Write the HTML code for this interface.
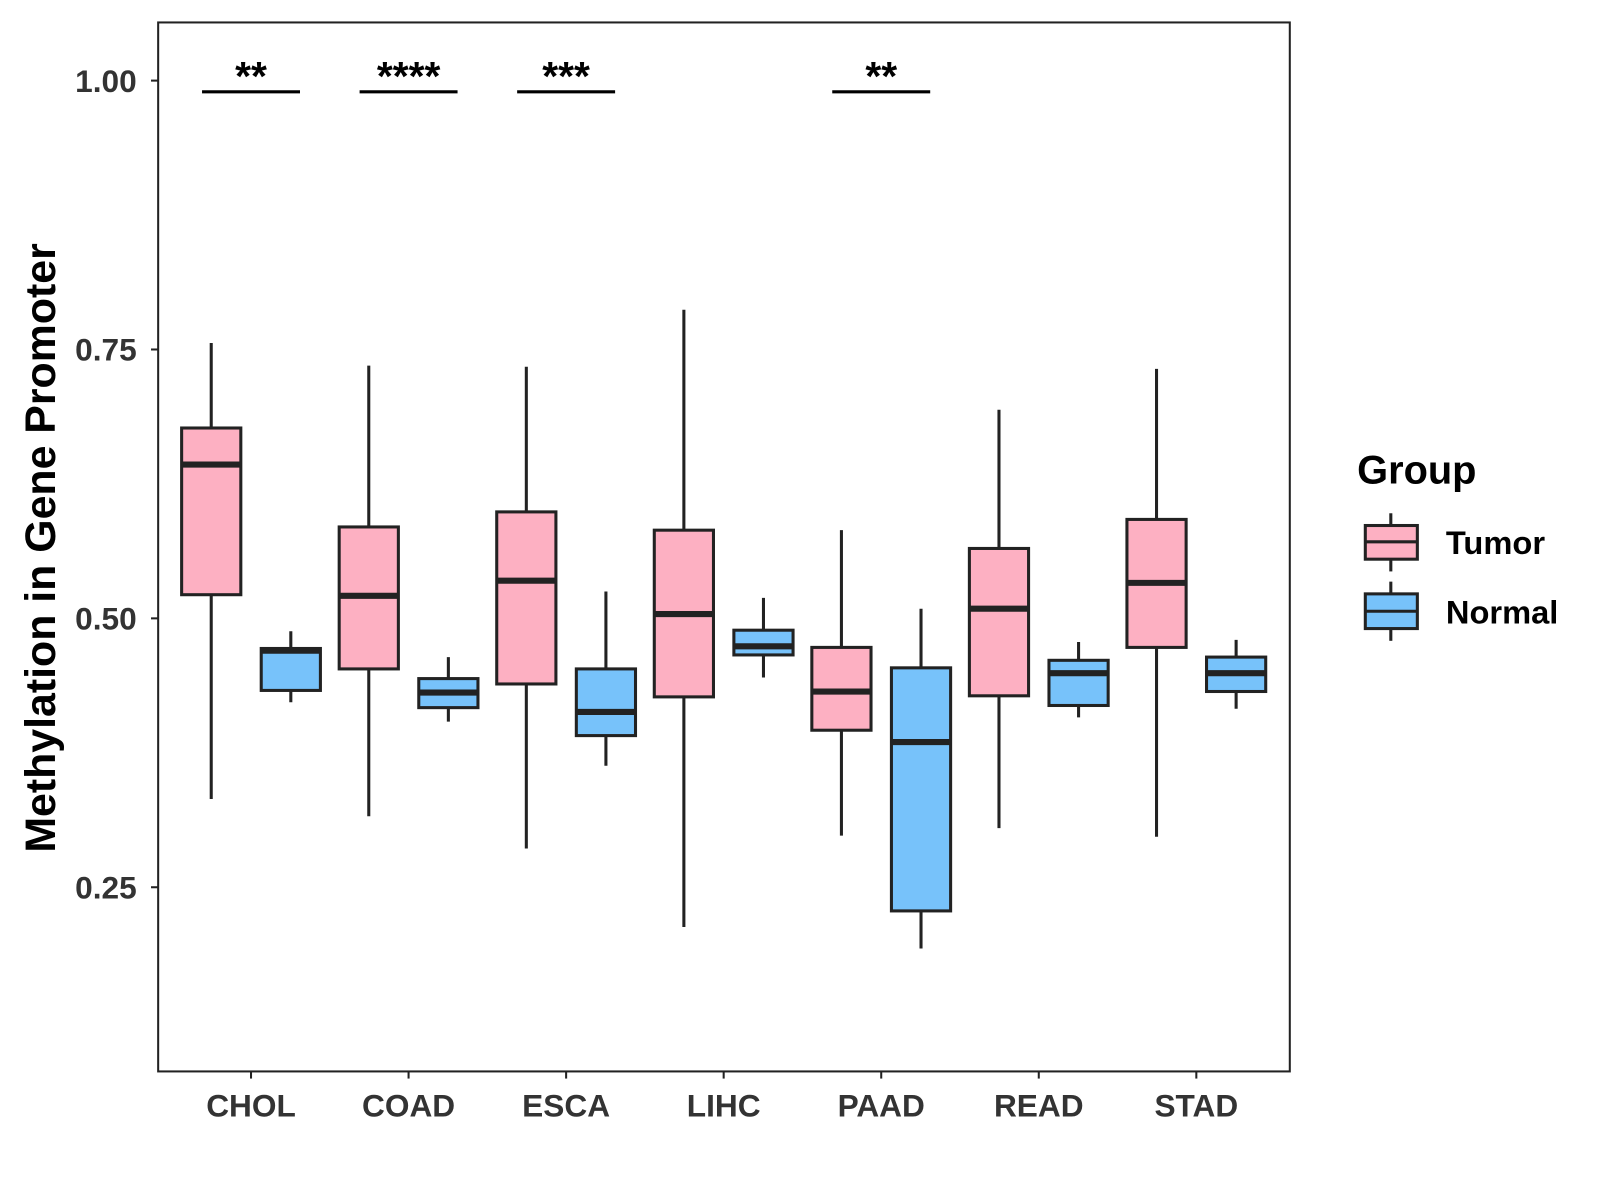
<!DOCTYPE html>
<html><head><meta charset="utf-8"><style>
body{margin:0;background:#fff}
svg{display:block;font-family:"Liberation Sans",Arial,sans-serif}
</style></head><body>
<svg id="c" width="1600" height="1200" viewBox="0 0 1568 1176">
<rect x="155" y="22" width="1109" height="1028" fill="#fff" stroke="#222" stroke-width="2"/>
<g id="marks"></g>
<text transform="translate(54,537) rotate(-90)" text-anchor="middle" font-size="42" font-weight="bold" fill="#000">Methylation in Gene Promoter</text>
<g>
<text x="1330" y="474" font-size="39" font-weight="bold">Group</text>
<g>
<line x1="1363" y1="503" x2="1363" y2="560" stroke="#222" stroke-width="3"/>
<rect x="1338" y="515" width="51" height="33" fill="#fdb0c2" stroke="#222" stroke-width="3"/>
<line x1="1338" y1="531" x2="1389" y2="531" stroke="#222" stroke-width="3"/>
<text x="1417" y="543" font-size="32" font-weight="bold">Tumor</text></g>
<g>
<line x1="1363" y1="570" x2="1363" y2="628" stroke="#222" stroke-width="3"/>
<rect x="1338" y="582" width="51" height="34" fill="#77c2fa" stroke="#222" stroke-width="3"/>
<line x1="1338" y1="599" x2="1389" y2="599" stroke="#222" stroke-width="3"/>
<text x="1417" y="611" font-size="32" font-weight="bold">Normal</text></g>
</g>
</svg>
<script>
const categories=["CHOL","COAD","ESCA","LIHC","PAAD","READ","STAD"];
const tumorMin=[0.332,0.316,0.286,0.213,0.298,0.305,0.297];
const tumorQ1=[0.522,0.453,0.439,0.427,0.396,0.428,0.473];
const tumorMed=[0.643,0.521,0.535,0.504,0.432,0.509,0.533];
const tumorQ3=[0.677,0.585,0.599,0.582,0.473,0.565,0.592];
const tumorMax=[0.756,0.735,0.734,0.787,0.582,0.694,0.732];
const normalMin=[0.422,0.404,0.363,0.445,0.193,0.408,0.416];
const normalQ1=[0.433,0.417,0.391,0.466,0.228,0.419,0.432];
const normalMed=[0.470,0.431,0.413,0.474,0.385,0.449,0.449];
const normalQ3=[0.472,0.444,0.453,0.489,0.454,0.461,0.464];
const normalMax=[0.488,0.464,0.525,0.519,0.509,0.478,0.480];
const sigLabels=["**","****","***","","**","",""];
const yTicks=[0.25,0.5,0.75,1.0];
const yTickLabels=["0.25","0.50","0.75","1.00"];
const NS="http://www.w3.org/2000/svg";
const y=v=>79+(1-v)*1054;
const x=i=>246+i*154.4;
const g=document.getElementById('marks');
function mk(t,a,p){const e=document.createElementNS(NS,t);for(const k in a)e.setAttribute(k,a[k]);(p||g).appendChild(e);return e;}
yTicks.forEach((v,i)=>{
 const t=mk('line',{x1:148,x2:155,y1:y(v),y2:y(v),stroke:'#222','stroke-width':2});
 
 
 const l=mk('text',{x:134,y:y(v)+11,'text-anchor':'end','font-size':31,'font-weight':'bold',fill:'#333'});
 l.textContent=yTickLabels[i];
 
 
});
categories.forEach((c,i)=>{
 const cx=x(i);
 const t=mk('line',{x1:cx,x2:cx,y1:1050,y2:1057,stroke:'#222','stroke-width':2});
 
 
 const l=mk('text',{x:cx,y:1094,'text-anchor':'middle','font-size':31,'font-weight':'bold',fill:'#333'});
 l.textContent=c;
 
 
 const sets=[[tumorMin,tumorQ1,tumorMed,tumorQ3,tumorMax,'#fdb0c2',-39,'tumor'],[normalMin,normalQ1,normalMed,normalQ3,normalMax,'#77c2fa',39,'normal']];
 sets.forEach(s=>{
  const bx=cx+s[6];
  const grp=mk('g',{});
  
  
  mk('line',{x1:bx,x2:bx,y1:y(s[4][i]),y2:y(s[0][i]),stroke:'#222','stroke-width':3},grp);
  mk('rect',{x:bx-29,y:y(s[3][i]),width:58,height:y(s[1][i])-y(s[3][i]),fill:s[5],stroke:'#222','stroke-width':3},grp);
  mk('line',{x1:bx-29,x2:bx+29,y1:y(s[2][i]),y2:y(s[2][i]),stroke:'#222','stroke-width':6},grp);
 });
 if(sigLabels[i]){
  const sl=mk('line',{x1:cx-48,x2:cx+48,y1:90,y2:90,stroke:'#000','stroke-width':3});
  
  
  const st=mk('text',{x:cx,y:88,'text-anchor':'middle','font-size':40,'font-weight':'bold',fill:'#000'});
  st.textContent=sigLabels[i];
  
  
 }
});
</script>
</body></html>
